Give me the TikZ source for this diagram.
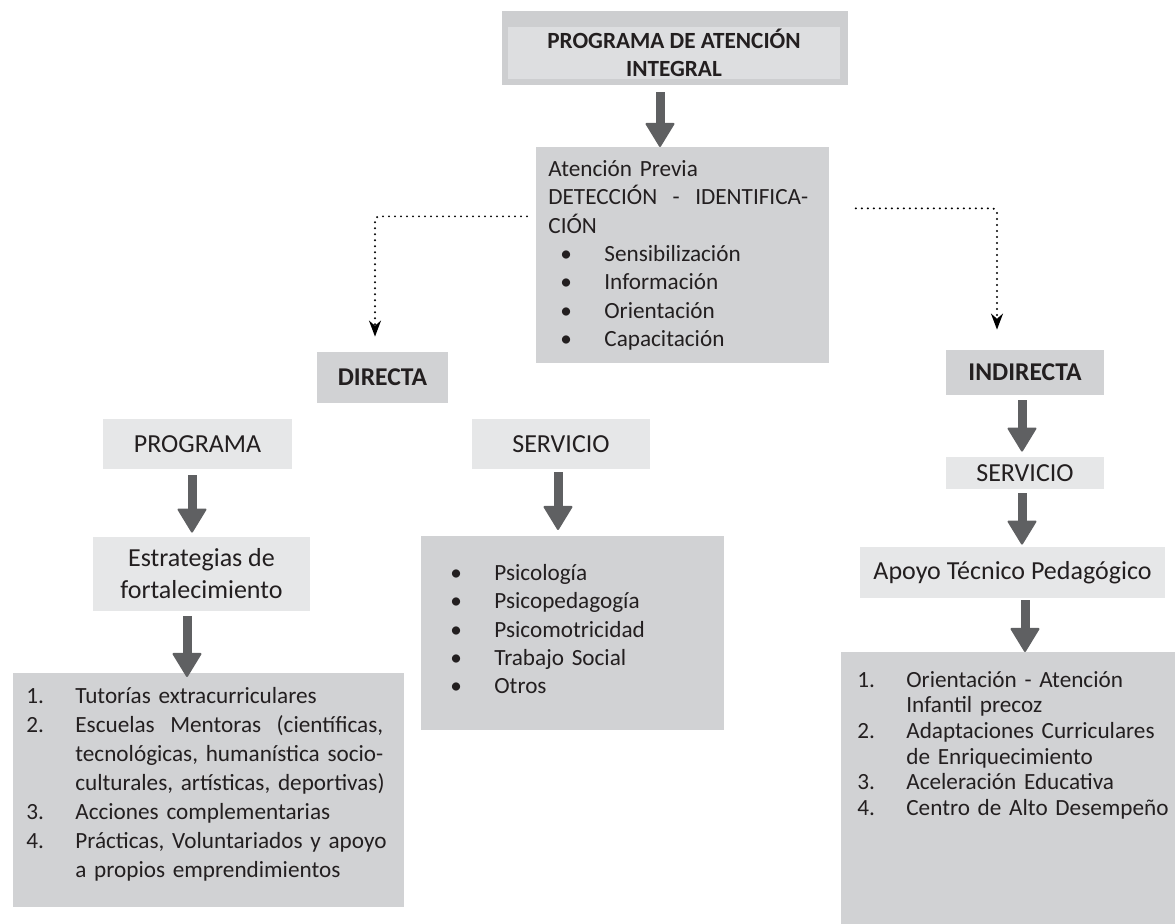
\documentclass[tikz,border=0pt]{standalone}
\usepackage{fontspec}
\setmainfont{Carlito}
\usepackage{xcolor}
\usepackage{tikz}
\usetikzlibrary{arrows.meta,backgrounds,positioning}

\definecolor{boxmid}{RGB}{209,210,212}
\definecolor{boxlight}{RGB}{230,231,232}
\definecolor{topinner}{RGB}{221,222,224}
\definecolor{topframe}{RGB}{205,206,208}
\definecolor{arrowgray}{RGB}{95,96,98}
\definecolor{textdark}{RGB}{35,31,32}

\newcommand{\bul}{\hspace*{6pt}\makebox[22pt][l]{\textbullet}}
\newcommand{\itemnum}[2]{\makebox[24.5pt][l]{#1.}\mbox{#2}}
\newcommand{\cont}[1]{\hspace*{24.5pt}\mbox{#1}}

\tikzset{
  every node/.style={text=textdark},
  midbox/.style={fill=boxmid, inner sep=0pt},
  lightbox/.style={fill=boxlight, inner sep=0pt},
  headtxt/.style={font=\fontsize{12.8pt}{15pt}\selectfont\bfseries},
  bigtxt/.style={font=\fontsize{13pt}{16pt}\selectfont},
  listbox/.style={fill=boxmid, anchor=north west, align=left, inner ysep=0pt},
  bigarrow/.style={draw=arrowgray, line width=4.5pt,
    -{Triangle[width=15pt,length=12.5pt,line width=1pt,round]}},
  dotarrow/.style={black, line width=1.1pt, dash pattern=on 0pt off 3pt,
    line cap=round, rounded corners=2pt, -{Stealth[width=6pt,length=8pt]}}
}

\begin{document}
\begin{tikzpicture}[x=0.5pt,y=-0.5pt]
  \path[use as bounding box] (0,0) rectangle (1175,924);

  % top of the chart
  \node[fill=topinner, inner sep=0pt, minimum width=166pt, minimum height=26pt,
        align=center, font=\fontsize{11.6pt}{14pt}\selectfont\bfseries]
        (titulo) at (674,53) {PROGRAMA DE ATENCIÓN\\INTEGRAL};
  \node[midbox, anchor=north west, align=left, text width=134.5pt, inner xsep=6pt,
        text height=14.5pt, text depth=93.5pt,
        font=\fontsize{11.6pt}{14.2pt}\selectfont]
        (atencion) at (536,147) {Atención Previa\\
        \mbox{DETECCIÓN \ - \ IDENTIFICA-}\\
        CIÓN\\
        \bul Sensibilización\\
        \bul Información\\
        \bul Orientación\\
        \bul Capacitación};

  \node[midbox, headtxt, minimum width=65.5pt, minimum height=25.5pt]
        (directa) at (382.5,377.5) {DIRECTA};
  \node[midbox, headtxt, minimum width=79pt, minimum height=22.5pt]
        (indirecta) at (1025,372.5) {INDIRECTA};

  % left column
  \node[lightbox, bigtxt, minimum width=94.5pt, minimum height=25pt]
        (prog) at (197.5,444) {PROGRAMA};
  \node[lightbox, bigtxt, align=center, minimum width=108.5pt, minimum height=37pt]
        (estr) at (201.5,574) {Estrategias de\\fortalecimiento};
  \node[listbox, text width=182.5pt, inner xsep=6.5pt, text height=15pt,
        text depth=102pt, font=\fontsize{11.6pt}{14.5pt}\selectfont]
        (lista) at (13,673) {\itemnum{1}{Tutorías extracurriculares}\\
        \itemnum{2}{Escuelas \ Mentoras \ (científicas,}\\
        \cont{tecnológicas, humanística socio-}\\
        \cont{culturales, artísticas, deportivas)}\\
        \itemnum{3}{Acciones complementarias}\\
        \itemnum{4}{Prácticas, Voluntariados y apoyo}\\
        \cont{a propios emprendimientos}};

  % middle column
  \node[lightbox, bigtxt, minimum width=89pt, minimum height=25pt]
        (serv) at (561,444) {SERVICIO};
  \node[listbox, text width=134.5pt, inner xsep=8.5pt, text height=22pt,
        text depth=75pt, font=\fontsize{11.6pt}{14.2pt}\selectfont]
        (listb) at (421,536) {\bul Psicología\\
        \bul Psicopedagogía\\
        \bul Psicomotricidad\\
        \bul Trabajo Social\\
        \bul Otros};

  % right column
  \node[lightbox, bigtxt, minimum width=79pt, minimum height=16pt]
        (serv2) at (1025,473) {SERVICIO};
  \node[lightbox, bigtxt, minimum width=152.5pt, minimum height=25.5pt]
        (apoyo) at (1012.5,572.5) {Apoyo Técnico Pedagógico};
  \node[listbox, text width=151pt, inner xsep=8pt, text height=17.5pt,
        text depth=118.5pt, font=\fontsize{11.6pt}{12.8pt}\selectfont]
        (listc) at (841,652) {\itemnum{1}{Orientación - Atención}\\
        \cont{Infantil precoz}\\
        \itemnum{2}{Adaptaciones Curriculares}\\
        \cont{de Enriquecimiento}\\
        \itemnum{3}{Aceleración Educativa}\\
        \itemnum{4}{Centro de Alto Desempeño}};

  % frame round the title
  \begin{pgfonlayer}{background}
    \fill[topframe] ([shift={(-3pt,8pt)}]titulo.north west)
      rectangle ([shift={(4pt,-3pt)}]titulo.south east);
  \end{pgfonlayer}

  % arrows
  \draw[bigarrow] ([shift={(-7pt,-6.5pt)}]titulo.south) -- ([xshift=-7pt]titulo.south |- atencion.north);
  \draw[bigarrow] ([shift={(-2.75pt,-3pt)}]prog.south) -- ([shift={(-2.75pt,2pt)}]prog.south |- estr.north);
  \draw[bigarrow] ([shift={(-7.25pt,-2.5pt)}]estr.south) -- ([shift={(-7.25pt,-2pt)}]estr.south |- lista.north);
  \draw[bigarrow] ([shift={(-1.5pt,-1.5pt)}]serv.south) -- ([shift={(-1.5pt,3pt)}]serv.south |- listb.north);
  \draw[bigarrow] ([shift={(-1.5pt,-2.5pt)}]indirecta.south) -- ([shift={(-1.5pt,2.5pt)}]indirecta.south |- serv2.north);
  \draw[bigarrow] ([shift={(-1.5pt,-2pt)}]serv2.south) -- ([shift={(-1.5pt,1pt)}]serv2.south |- apoyo.north);
  \draw[bigarrow] ([shift={(6.25pt,-1pt)}]apoyo.south) -- ([xshift=6.25pt]apoyo.south |- listc.north);

  \draw[dotarrow] ([shift={(-4.5pt,19.5pt)}]atencion.west) -| ([shift={(-3.75pt,7.5pt)}]directa.north);
  \draw[dotarrow] ([shift={(13pt,23.5pt)}]atencion.east) -| ([shift={(-14pt,10pt)}]indirecta.north);
\end{tikzpicture}
\end{document}
